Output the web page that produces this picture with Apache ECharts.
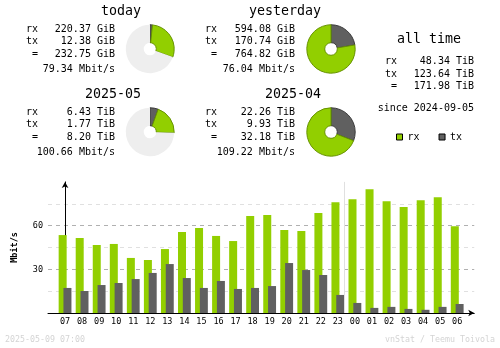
<!DOCTYPE html>
<html><head><meta charset="utf-8">
<script src="https://cdn.jsdelivr.net/npm/echarts@6/dist/echarts.min.js"></script>
<style>html,body{margin:0;padding:0;background:#fff}#c{width:500px;height:348px}</style>
</head><body><div id="c"></div>
<script>
// ---- data ----
const hours = ['07','08','09','10','11','12','13','14','15','16','17','18','19','20','21','22','23','00','01','02','03','04','05','06'];
const rxRate = [53.5,51.5,46.7,47.4,37.8,36.4,43.9,55.6,58.4,52.9,49.4,66.6,67.3,57.0,56.3,68.7,76.0,78.1,84.9,76.8,72.7,77.4,79.5,59.6];
const txRate = [17.2,15.1,19.2,20.6,23.3,27.5,33.6,24.0,17.2,22.0,16.5,17.2,18.5,34.3,29.5,26.1,12.4,6.9,3.5,4.2,2.8,2.2,4.2,6.2];
const yLabels = ['30','60'];
const dayBreakAfter = '23';

const summaryTitles = ['today','yesterday','2025-05','2025-04'];
const summaryRx = ['220.37 GiB','594.08 GiB','6.43 TiB','22.26 TiB'];
const summaryTx = ['12.38 GiB','170.74 GiB','1.77 TiB','9.93 TiB'];
const summaryTotal = ['232.75 GiB','764.82 GiB','8.20 TiB','32.18 TiB'];
const summaryRate = ['79.34 Mbit/s','76.04 Mbit/s','100.66 Mbit/s','109.22 Mbit/s'];
const pieRx = [220.37, 594.08, 6.43, 22.26];
const pieTx = [12.38, 170.74, 1.77, 9.93];
const pieFull = [764.82, 764.82, 32.18, 32.18];

const allTimeRx = '48.34 TiB';
const allTimeTx = '123.64 TiB';
const allTimeTotal = '171.98 TiB';
const sinceText = 'since 2024-09-05';
const footerLeft = '2025-05-09 07:00';
const footerRight = 'vnStat / Teemu Toivola';

// ---- styles / layout ----
const RX = '#92cf00', TX = '#606060';
const MONO = '"DejaVu Sans Mono", monospace';
const blocks = [
  {tx:141, lx:38, vx:115, px:150, dy:0},
  {tx:321, lx:217, vx:295, px:331, dy:0},
  {tx:141, lx:38, vx:115, px:150, dy:83},
  {tx:321, lx:217, vx:295, px:331, dy:83}
];
function T(x, y, text, size, align, color, weight) {
  return {type:'text', x:x, y:y, silent:true, z:10,
    style:{text:text, font:(weight||'normal')+' '+size+'px '+MONO, fill:color||'#000',
      align:align, verticalAlign:'middle', textAlign:align, textVerticalAlign:'middle'}};
}
const graphics = [];
const pies = [];
blocks.forEach((b, i) => {
  graphics.push(T(b.tx, 11.5 + b.dy, summaryTitles[i], 13.3, 'right'));
  const rows = [29.3, 41.5, 54, 69].map(v => v + b.dy);
  graphics.push(T(b.lx, rows[0], 'rx', 10, 'right'));
  graphics.push(T(b.lx, rows[1], 'tx', 10, 'right'));
  graphics.push(T(b.lx, rows[2], '=', 10, 'right'));
  graphics.push(T(b.vx, rows[0], summaryRx[i], 10, 'right'));
  graphics.push(T(b.vx, rows[1], summaryTx[i], 10, 'right'));
  graphics.push(T(b.vx, rows[2], summaryTotal[i], 10, 'right'));
  graphics.push(T(b.vx, rows[3], summaryRate[i], 10, 'right'));
  pies.push({
    type:'pie', center:[b.px, 49 + b.dy], radius:[6.3, 24.2], startAngle:90, clockwise:true,
    silent:true, animation:false, label:{show:false}, labelLine:{show:false},
    emphasis:{disabled:true},
    data:[
      {value:pieTx[i], itemStyle:{color:TX, borderColor:'#3c3c3c', borderWidth:1}},
      {value:pieRx[i], itemStyle:{color:RX, borderColor:'#679300', borderWidth:1}},
      {value:Math.max(0, pieFull[i] - pieRx[i] - pieTx[i]), itemStyle:{color:'#eeeeee', borderWidth:0}}
    ]
  });
});
graphics.push(T(429, 40, 'all time', 13.3, 'center'));
graphics.push(T(397, 61.5, 'rx', 10, 'right'));
graphics.push(T(397, 74, 'tx', 10, 'right'));
graphics.push(T(397, 86.5, '=', 10, 'right'));
graphics.push(T(474, 61.5, allTimeRx, 10, 'right'));
graphics.push(T(474, 74, allTimeTx, 10, 'right'));
graphics.push(T(474, 86.5, allTimeTotal, 10, 'right'));
graphics.push(T(474, 108, sinceText, 10, 'right'));
graphics.push(T(5, 340, footerLeft, 8.3, 'left', '#d4d4d4'));
graphics.push(T(495, 340, footerRight, 8.3, 'right', '#d4d4d4'));

const breakIdx = hours.indexOf(dayBreakAfter) + 0.5;

const option = {
  animation:false,
  backgroundColor:'#fff',
  grid:{left:48, right:25.75, top:181.9, bottom:35, outerBoundsMode:'none', containLabel:false},
  legend:{
    data:['rx','tx'], left:391, top:127, itemWidth:6, itemHeight:6, itemGap:19, icon:'rect',
    itemStyle:{borderColor:'#000', borderWidth:1},
    textStyle:{fontFamily:MONO, fontSize:10, color:'#000'}, selectedMode:false
  },
  xAxis:{
    type:'value', min:-1, max:24, interval:1,
    axisLine:{show:true, lineStyle:{color:'#000', width:1}, symbol:['none','arrow'], symbolSize:[5,6]},
    axisTick:{show:false}, splitLine:{show:false},
    axisLabel:{fontFamily:MONO, fontSize:8.5, color:'#000', margin:4,
      formatter:v => (hours[v] !== undefined ? hours[v] : '')}
  },
  yAxis:{
    type:'value', min:0, max:90, interval:30,
    name:'Mbit/s', nameLocation:'middle', nameGap:29,
    nameTextStyle:{fontFamily:MONO, fontSize:8.5, fontWeight:'bold', color:'#000'},
    axisLine:{show:true, lineStyle:{color:'#000', width:1}, symbol:['none','arrow'], symbolSize:[5,6]},
    axisTick:{show:false},
    axisLabel:{fontFamily:MONO, fontSize:8.5, color:'#000', margin:5,
      formatter:v => (yLabels.indexOf(String(v)) >= 0 ? String(v) : '')},
    splitLine:{show:true, showMinLine:false, showMaxLine:false, lineStyle:{color:'#b0b0b0', type:[4,4], width:1}},
    minorTick:{show:false, splitNumber:2},
    minorSplitLine:{show:true, lineStyle:{color:'#e0e0e0', type:[4,4], width:1}}
  },
  graphic:graphics,
  series:[
    {name:'rx', type:'bar', barWidth:8, barGap:'-40%', itemStyle:{color:RX},
     data:rxRate.map((v,i)=>[i,v]),
     markLine:{silent:true, symbol:['none','none'], label:{show:false},
       lineStyle:{color:'#e0e0e0', type:'solid', width:1}, data:[{xAxis:breakIdx}]}},
    {name:'tx', type:'bar', barWidth:8, barGap:'-40%', itemStyle:{color:TX},
     data:txRate.map((v,i)=>[i,v])}
  ].concat(pies)
};
const chart = echarts.init(document.getElementById('c'), null, {renderer:'canvas'});
chart.setOption(option);
</script></body></html>
